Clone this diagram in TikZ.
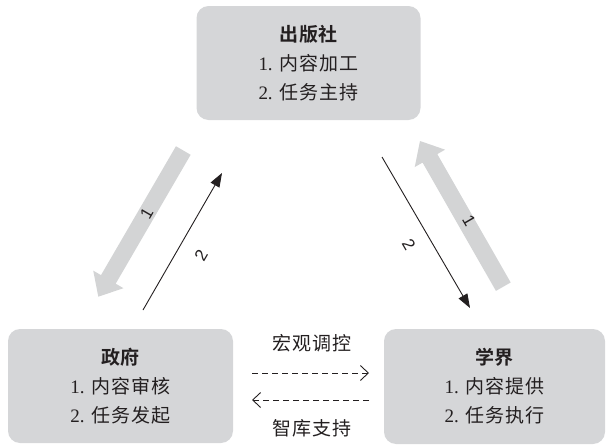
\documentclass[tikz,border=0pt]{standalone}
\usepackage{fontspec}
\setmainfont{Liberation Serif}
\newfontfamily\cjk[LetterSpace=6]{Noto Sans CJK SC}
\newfontfamily\cjkb[LetterSpace=4]{Noto Sans CJK SC Bold}
\newfontfamily\lab{Liberation Sans}
\usetikzlibrary{arrows.meta,calc}
\definecolor{boxgray}{HTML}{D5D6D8}
\definecolor{arrgray}{HTML}{D3D4D5}
\definecolor{ink}{HTML}{231F20}
\tikzset{
  rolebox/.style={fill=boxgray, rounded corners=12pt, align=center, text=ink,
    minimum width=224pt, minimum height=114pt, inner sep=0pt,
    font=\fontsize{19}{29}\selectfont},
  thinarrow/.style={draw=ink, line width=0.9pt, -{Triangle[length=14pt,width=10pt]}},
  dasharrow/.style={draw=ink, line width=0.9pt, dash pattern=on 6pt off 4pt,
    -{Straight Barb[length=8pt,width=15pt,line width=0.9pt]}},
  numlab/.style={text=ink, font=\lab\fontsize{17}{17}\selectfont, inner sep=0pt},
  midlab/.style={text=ink, font=\cjk\fontsize{19}{20}\selectfont, inner sep=0pt}
}
\newcommand{\grayarrow}[2]{%
  \fill[arrgray] ($(#1)!8.5pt!90:(#2)$) -- ($($(#2)!20pt!(#1)$)!8.5pt!90:(#2)$)
    -- ($($(#2)!20pt!(#1)$)!17.5pt!90:(#2)$) -- (#2)
    -- ($($(#2)!20pt!(#1)$)!17.5pt!-90:(#2)$) -- ($($(#2)!20pt!(#1)$)!8.5pt!-90:(#2)$)
    -- ($(#1)!8.5pt!-90:(#2)$) -- cycle;}
\begin{document}
\begin{tikzpicture}[x=1pt,y=-1pt]
\useasboundingbox (0,0) rectangle (606,447);
% boxes
\node[rolebox] (pub) at (308.5,63) {{\cjkb 出版社}\\ 1. {\cjk 内容加工}\\ 2. {\cjk 任务主持}};
\node[rolebox, minimum width=225pt] (gov) at (120.5,386) {{\cjkb 政府}\\ 1. {\cjk 内容审核}\\ 2. {\cjk 任务发起}};
\node[rolebox, minimum width=221pt, minimum height=115pt] (aca) at (494.5,386.5) {{\cjkb 学界}\\ 1. {\cjk 内容提供}\\ 2. {\cjk 任务执行}};
% left gray arrow (1): publisher -> government
\coordinate (lgA) at (183.3,150.5);
\coordinate (lgB) at (98.3,296.7);
\grayarrow{lgA}{lgB}
% right gray arrow (1): academia -> publisher
\coordinate (rgA) at (503.3,286.7);
\coordinate (rgB) at (420,141);
\grayarrow{rgA}{rgB}
% thin arrows (2)
\coordinate (lbA) at (143,310);
\coordinate (lbB) at (222,173);
\draw[thinarrow] (lbA) -- (lbB);
\coordinate (rbA) at (382,157);
\coordinate (rbB) at (470,308);
\draw[thinarrow] (rbA) -- (rbB);
% number labels
\node[numlab, rotate=60] (l1) at (146.7,213.3) {1};
\node[numlab, rotate=60] (l2) at (201,255) {2};
\node[numlab, rotate=-60] (r2) at (409,245) {2};
\node[numlab, rotate=-60] (r1) at (469,221) {1};
% middle dashed arrows
\coordinate (d1a) at (252,373);
\coordinate (d1b) at (369,373);
\coordinate (d2a) at (369,400);
\coordinate (d2b) at (252,400);
\draw[dasharrow] (d1a) -- (d1b);
\draw[dasharrow] (d2a) -- (d2b);
\node[midlab] (hg) at (312,343) {宏观调控};
\node[midlab] (zk) at (312,428) {智库支持};
\end{tikzpicture}
\end{document}
